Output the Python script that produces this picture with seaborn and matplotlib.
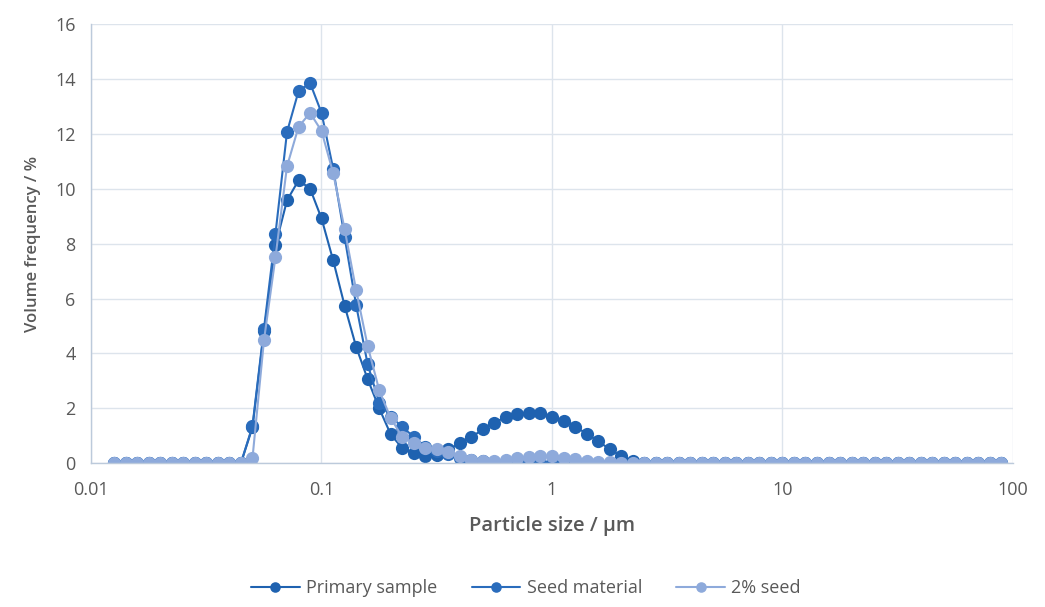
import numpy as np
import pandas as pd
import matplotlib
matplotlib.use("Agg")
import matplotlib.pyplot as plt
import seaborn as sns

# particle size classes (um)
sizes = [0.01262, 0.01416, 0.01589, 0.01783, 0.02, 0.02244, 0.02518, 0.02825,
         0.0317, 0.03557, 0.03991, 0.04477, 0.05024, 0.05637, 0.06325, 0.07096,
         0.07962, 0.08934, 0.1002, 0.1125, 0.1262, 0.1416, 0.1589, 0.1783,
         0.2, 0.2244, 0.2518, 0.2825, 0.317, 0.3557, 0.3991, 0.4477,
         0.5024, 0.5637, 0.6325, 0.7096, 0.7962, 0.8934, 1.002, 1.125,
         1.262, 1.416, 1.589, 1.783, 2.0, 2.244, 2.518, 2.825,
         3.17, 3.557, 3.991, 4.477, 5.024, 5.637, 6.325, 7.096,
         7.962, 8.934, 10.02, 11.25, 12.62, 14.16, 15.89, 17.83,
         20.0, 22.44, 25.18, 28.25, 31.7, 35.57, 39.91, 44.77,
         50.24, 56.37, 63.25, 70.96, 79.62, 89.34]

primary_nonzero = [1.3, 4.8, 7.94, 9.58, 10.31, 10.01, 8.92, 7.4, 5.74, 4.24, 3.06, 2.0,
                   1.05, 0.55, 0.36, 0.27, 0.3, 0.5, 0.72, 0.95, 1.23, 1.47, 1.69, 1.79,
                   1.82, 1.81, 1.7, 1.55, 1.33, 1.08, 0.8, 0.51, 0.26, 0.08, 0.02]
seed_nonzero = [1.35, 4.9, 8.37, 12.07, 13.56, 13.86, 12.77, 10.74, 8.24, 5.76, 3.6, 2.21,
                1.7, 1.32, 0.96, 0.6, 0.45, 0.33, 0.2, 0.12, 0.08, 0.05, 0.04, 0.03,
                0.02, 0.02, 0.02, 0.01, 0.01]
mix_nonzero = [0.17, 4.48, 7.52, 10.82, 12.26, 12.77, 12.11, 10.58, 8.53, 6.3, 4.27, 2.66,
               1.64, 0.96, 0.72, 0.57, 0.5, 0.41, 0.26, 0.12, 0.08, 0.08, 0.11, 0.17,
               0.24, 0.27, 0.25, 0.2, 0.14, 0.09, 0.05, 0.03, 0.01]

lead = 12  # first 12 classes are zero for all samples


def pad(vals):
    return [0.0] * lead + vals + [0.0] * (len(sizes) - lead - len(vals))


series = {
    'Primary sample': pad(primary_nonzero),
    'Seed material': pad(seed_nonzero),
    '2% seed': pad(mix_nonzero),
}
colors = {'Primary sample': '#1f62b0', 'Seed material': '#2a6cbc', '2% seed': '#8eaadb'}

df = pd.concat([pd.DataFrame({'size': sizes, 'freq': v, 'sample': k})
                for k, v in series.items()], ignore_index=True)

sns.set_style('white')
plt.rcParams['font.family'] = ['Open Sans', 'DejaVu Sans']
grey = '#595959'

fig = plt.figure(figsize=(10.45, 6.07), dpi=100)
ax = fig.add_axes([0.087, 0.237, 0.882, 0.723])

for name in series:
    sub = df[df['sample'] == name]
    sns.lineplot(data=sub, x='size', y='freq', ax=ax, color=colors[name], label=name,
                 marker='o', markersize=9.5, markeredgewidth=0, linewidth=1.5,
                 sort=False, estimator=None)

ax.set_xscale('log')
ax.set_xlim(0.01, 100)
ax.set_ylim(0, 16)
ax.set_yticks(range(0, 17, 2))
ax.set_xticks([0.01, 0.1, 1, 10, 100])
ax.set_xticklabels(['0.01', '0.1', '1', '10', '100'])
ax.minorticks_off()
ax.grid(True, color='#dde4ec', linewidth=1)
ax.set_axisbelow(True)
for s in ['top', 'right']:
    ax.spines[s].set_visible(False)
for s in ['left', 'bottom']:
    ax.spines[s].set_color('#bccadb')
    ax.spines[s].set_linewidth(1)
ax.tick_params(axis='both', length=0, labelsize=13, labelcolor=grey)
ax.tick_params(axis='x', pad=13)
ax.tick_params(axis='y', pad=11)
ax.set_xlabel('Particle size / µm', fontsize=14.5, fontweight='semibold', color=grey, labelpad=12)
ax.set_ylabel('Volume frequency / %', fontsize=12, fontweight='semibold', color=grey, labelpad=10)

ax.legend(loc='upper center', bbox_to_anchor=(0.472, -0.228), ncol=3, frameon=False,
          fontsize=13, labelcolor=grey, handlelength=2.7, handletextpad=0.35,
          columnspacing=1.9, markerscale=0.8)

fig.savefig('out.png', dpi=100)
